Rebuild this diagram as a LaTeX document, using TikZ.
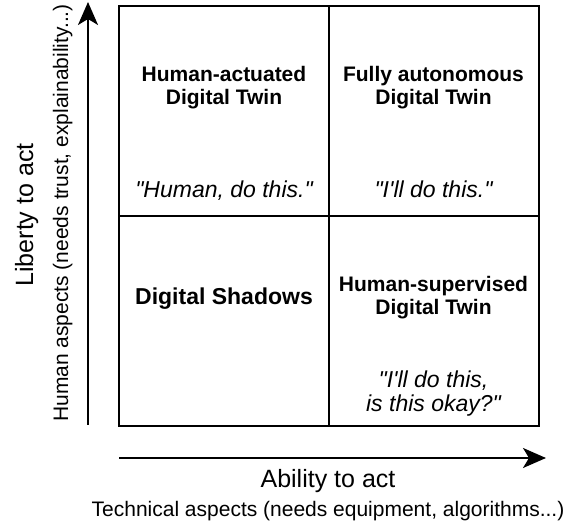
\documentclass[tikz,border=0pt]{standalone}
\usepackage{fontspec}
\setmainfont{Liberation Sans}[Ligatures=TeXOff]
\usetikzlibrary{arrows.meta,positioning}

\tikzset{
  cell/.style={draw,line width=2pt,minimum width=210pt,minimum height=210pt,inner sep=0pt},
  twin/.style={font=\bfseries\fontsize{21}{23}\selectfont,align=center,inner sep=0pt},
  quote/.style={font=\itshape\fontsize{23}{24}\selectfont,align=center,inner sep=0pt},
  axis/.style={line width=2pt,-{Stealth[length=23pt,width=20pt,inset=6pt]}},
  big/.style={font=\fontsize{25}{28}\selectfont,inner sep=0pt},
  small/.style={font=\fontsize{21}{24}\selectfont,inner sep=0pt}
}

\begin{document}
\begin{tikzpicture}[x=1pt,y=-1pt]
  \useasboundingbox (0,0) rectangle (566,526);
  % quadrants
  \node[cell] (tl) at (224,111) {};
  \node[cell] (tr) at (433.5,111) {};
  \node[cell] (bl) at (224,321) {};
  \node[cell] (br) at (433.5,321) {};
  % texts
  \node[twin] (hat) at (224,88) {Human-actuated\\Digital Twin};
  \node[quote,anchor=base] (hatq) at (224,198) {"Human, do this."};
  \node[twin] (fat) at (433.5,88) {Fully autonomous\\Digital Twin};
  \node[quote,anchor=base] (fatq) at (433.5,198) {"I'll do this."};
  \node[twin,font=\bfseries\fontsize{23}{25}\selectfont,anchor=base] (ds) at (224,305) {Digital Shadows};
  \node[twin] (hst) at (433.5,298) {Human-supervised\\Digital Twin};
  \node[quote] (hstq) at (433.5,394) {"I'll do this,\\is this okay?"};
  % axes
  \coordinate (y0) at (88,425);
  \coordinate (y1) at (88,2);
  \coordinate (x0) at (119,458);
  \coordinate (x1) at (546,458);
  \draw[axis] (y0) -- (y1);
  \draw[axis] (x0) -- (x1);
  \node[big,rotate=90,anchor=base] (lib) at (33,215) {Liberty to act};
  \node[small,rotate=90,anchor=base] (hum) at (68,213) {Human aspects (needs trust, explainability...)};
  \node[big,anchor=base] (abl) at (328,488) {Ability to act};
  \node[small,anchor=base] (tech) at (328,517) {Technical aspects (needs equipment, algorithms...)};
\end{tikzpicture}
\end{document}
